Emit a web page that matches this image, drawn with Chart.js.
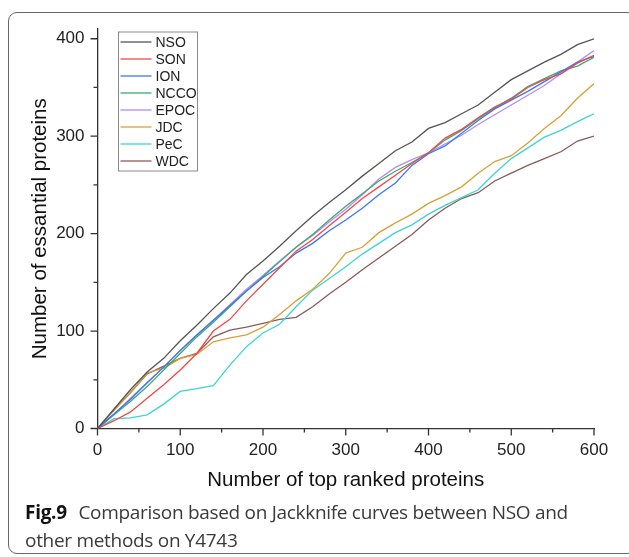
<!DOCTYPE html>
<html>
<head>
<meta charset="utf-8">
<script src="https://cdn.jsdelivr.net/npm/chart.js@4/dist/chart.umd.min.js"></script>
<style>
  html, body { margin: 0; padding: 0; background: #fff; }
  #wrap { position: relative; width: 629px; height: 557px; overflow: hidden; }
  #card { position: absolute; left: 8px; top: 12px; width: 628px; height: 542px;
          border: 1.3px solid #666; border-radius: 9px; box-sizing: border-box; }
  canvas { position: absolute; left: 0; top: 0; }
  #caption { position: absolute; left: 25px; top: 498px; width: 600px; white-space: nowrap;
             font-family: "Open Sans", "Noto Sans", sans-serif; font-size: 19px;
             line-height: 28px; color: #3a3a3a; letter-spacing: -0.3px; }
  #caption b { color: #111; font-weight: 700; margin-right: 7px; }
</style>
</head>
<body>
<div id="wrap">
  <div id="card"></div>
  <canvas id="c" width="629" height="557"></canvas>
  <div id="caption"><b>Fig.9</b> Comparison based on Jackknife curves between NSO and<br>other methods on Y4743</div>
</div>
<script>
const xValues = [0,20,40,60,80,100,120,140,160,180,200,220,240,260,280,300,320,340,360,380,400,420,440,460,480,500,520,540,560,580,600];
const seriesNames = ["NSO","SON","ION","NCCO","EPOC","JDC","PeC","WDC"];
const nso  = [0,20,40,58,72,90,106,123,139,158,172,187,203,218,232,245,259,272,285,294,308,314,323,332,345,358,367,376,384,394,400];
const son  = [0,8,17,31,45,60,77,100,112,131,148,165,182,194,208,222,236,248,260,272,283,298,307,319,330,338,350,358,364,375,383];
const ion  = [0,15,30,47,63,80,96,111,126,141,155,166,180,190,203,214,226,240,252,270,282,290,303,316,328,337,346,356,366,376,382];
const ncco = [0,14,28,43,60,77,94,109,125,141,156,171,186,199,214,228,241,254,264,273,283,296,306,318,329,339,351,359,367,372,381];
const epoc = [0,15,31,47,63,80,96,111,127,143,157,172,186,198,212,225,240,256,268,276,283,292,301,312,322,332,342,352,364,376,388];
const jdc  = [0,19,37,57,62,72,76,89,93,96,104,117,131,143,159,180,186,201,211,220,231,239,248,262,274,280,293,308,321,339,354];
const pec  = [0,10,11,14,25,38,41,44,65,84,98,107,125,142,154,166,179,190,201,209,220,229,237,245,262,277,288,299,306,315,323];
const wdc  = [0,19,37,56,64,72,77,94,101,104,108,112,114,125,138,150,163,175,187,199,214,226,236,242,254,262,270,277,284,295,300];
const xTickValues = [0,100,200,300,400,500,600];
const yTickValues = [0,100,200,300,400];
const xMinorValues = [50,150,250,350,450,550];
const yMinorValues = [50,150,250,350];

const seriesValues = [nso, son, ion, ncco, epoc, jdc, pec, wdc];
const seriesColors = ["#555555","#f04848","#3a78ee","#3daa6c","#b98af0","#d9a135","#3ed4d4","#8c5a5a"];

const datasets = seriesNames.map((name, i) => ({
  label: name,
  data: xValues.map((x, j) => ({x: x, y: seriesValues[i][j]})),
  borderColor: seriesColors[i],
  backgroundColor: seriesColors[i],
  borderWidth: 1.3,
  pointRadius: 0,
  tension: 0,
  fill: false
}));

const tickPlugin = {
  id: 'tickMarks',
  afterDraw(chart) {
    const ctx = chart.ctx, xs = chart.scales.x, ys = chart.scales.y, a = chart.chartArea;
    ctx.save();
    ctx.strokeStyle = '#333';
    ctx.lineWidth = 1.3;
    ctx.beginPath();
    xTickValues.forEach(v => { const p = xs.getPixelForValue(v); ctx.moveTo(p, a.bottom); ctx.lineTo(p, a.bottom + 7); });
    xMinorValues.forEach(v => { const p = xs.getPixelForValue(v); ctx.moveTo(p, a.bottom); ctx.lineTo(p, a.bottom + 4); });
    yTickValues.forEach(v => { const p = ys.getPixelForValue(v); ctx.moveTo(a.left, p); ctx.lineTo(a.left - 7, p); });
    yMinorValues.forEach(v => { const p = ys.getPixelForValue(v); ctx.moveTo(a.left, p); ctx.lineTo(a.left - 4, p); });
    ctx.stroke();
    ctx.restore();
  }
};

const legendPlugin = {
  id: 'innerLegend',
  afterDatasetsDraw(chart) {
    const ctx = chart.ctx;
    const bx = 118.5, by = 32, bw = 79, bh = 139, row = 17;
    ctx.save();
    ctx.fillStyle = '#fff';
    ctx.fillRect(bx, by, bw, bh);
    ctx.strokeStyle = '#8a8a8a';
    ctx.lineWidth = 1;
    ctx.strokeRect(bx, by, bw, bh);
    ctx.font = '14px "Liberation Sans", Arial, sans-serif';
    ctx.textBaseline = 'middle';
    ctx.fillStyle = '#222';
    chart.data.datasets.forEach((ds, i) => {
      const y = by + 10 + i * row;
      ctx.strokeStyle = ds.borderColor;
      ctx.lineWidth = 1.3;
      ctx.beginPath();
      ctx.moveTo(bx + 2, y); ctx.lineTo(bx + 33, y);
      ctx.stroke();
      ctx.fillText(ds.label, bx + 37, y + 1);
    });
    ctx.restore();
  }
};

new Chart(document.getElementById('c'), {
  type: 'line',
  data: { datasets: datasets },
  options: {
    responsive: false,
    animation: false,
    devicePixelRatio: 1,
    layout: { padding: { top: 29, right: 35, bottom: 60, left: 0 } },
    plugins: { legend: { display: false }, tooltip: { enabled: false } },
    scales: {
      x: {
        type: 'linear', min: 0, max: 600,
        afterBuildTicks: s => { s.ticks = xTickValues.map(v => ({value: v})); },
        afterFit: s => { s.height = 68.5; },
        grid: { display: false, drawTicks: false },
        border: { display: true, color: '#333', width: 1.3 },
        ticks: { padding: 12, color: '#222', font: { family: '"Liberation Sans", Arial, sans-serif', size: 17 }, maxRotation: 0 },
        title: { display: true, text: 'Number of top ranked proteins', color: '#111',
                 font: { family: '"Liberation Sans", Arial, sans-serif', size: 20.5 }, padding: { top: 0, bottom: 4 } }
      },
      y: {
        type: 'linear', min: 0, max: 410,
        afterBuildTicks: s => { s.ticks = yTickValues.map(v => ({value: v})); },
        afterFit: s => { s.width = 97.5; },
        grid: { display: false, drawTicks: false },
        border: { display: true, color: '#333', width: 1.3 },
        ticks: { padding: 13, color: '#222', font: { family: '"Liberation Sans", Arial, sans-serif', size: 17 } },
        title: { display: true, text: 'Number of essantial proteins', color: '#111',
                 font: { family: '"Liberation Sans", Arial, sans-serif', size: 20.5 }, padding: { top: 28, bottom: 0 } }
      }
    }
  },
  plugins: [tickPlugin, legendPlugin]
});
</script>
</body>
</html>
